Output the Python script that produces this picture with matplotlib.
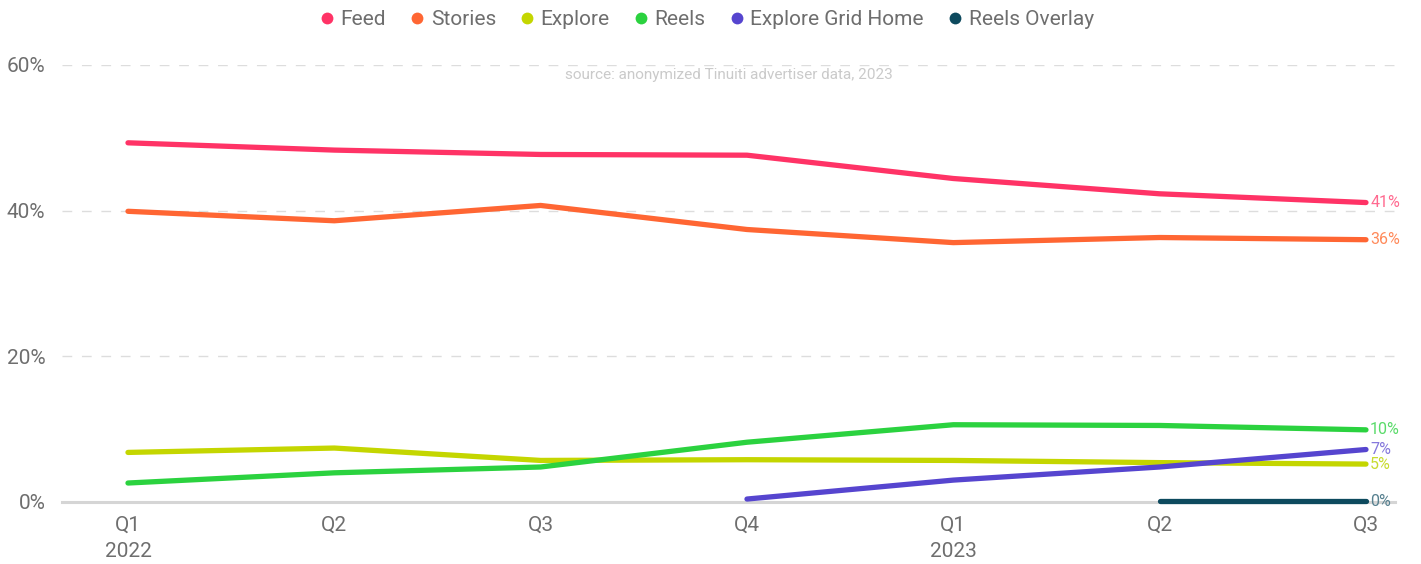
import matplotlib
matplotlib.use("Agg")
import matplotlib.pyplot as plt
from matplotlib.lines import Line2D
import numpy as np

plt.rcParams['font.family'] = ['Roboto', 'DejaVu Sans']

# Quarterly share of spend by placement
quarters = ["Q1\n2022", "Q2", "Q3", "Q4", "Q1\n2023", "Q2", "Q3"]
feed = [49.3, 48.3, 47.7, 47.6, 44.4, 42.3, 41.1]
stories = [39.9, 38.6, 40.7, 37.4, 35.6, 36.3, 36.0]
explore = [6.8, 7.4, 5.7, 5.8, 5.7, 5.4, 5.2]
reels = [2.6, 4.0, 4.8, 8.2, 10.6, 10.5, 9.9]
explore_grid_home = [None, None, None, 0.4, 3.0, 4.8, 7.2]
reels_overlay = [None, None, None, None, None, 0.1, 0.1]

series_names = ["Feed", "Stories", "Explore", "Reels", "Explore Grid Home", "Reels Overlay"]
series_values = [feed, stories, explore, reels, explore_grid_home, reels_overlay]
line_colors = ["#FF3366", "#FF6633", "#C4D600", "#2BD23F", "#5645CF", "#0D4A5E"]
label_colors = ["#FF6A90", "#FF8A5A", "#C8DB30", "#5ADB6A", "#8578DC", "#56808F"]

y_ticks = [0, 20, 40, 60]

fig = plt.figure(figsize=(14.21, 5.64), dpi=100)
ax = fig.add_axes([0.0436, 0.110, 0.938, 0.775])

x = np.arange(len(quarters))
for name, vals, col, lcol in zip(series_names, series_values, line_colors, label_colors):
    xs = [i for i, v in zip(x, vals) if v is not None]
    ys = [v for v in vals if v is not None]
    ax.plot(xs, ys, color=col, lw=3.8, solid_capstyle='round', solid_joinstyle='round',
            zorder=3, clip_on=False)
    ax.text(xs[-1] + 0.02, ys[-1], f"{round(ys[-1]):.0f}%", color=lcol, fontsize=11.5,
            va='center', ha='left', zorder=4)

ax.set_xlim(-0.32, 6.14)
ax.set_ylim(0, 60)

for t in y_ticks[1:]:
    ax.axhline(t, color="#DDDDDD", lw=1.0, ls=(0, (7, 7)), zorder=1)
ax.axhline(0, color="#D5D5D5", lw=2.2, zorder=2, clip_on=False)

for s in ax.spines.values():
    s.set_visible(False)

ax.set_yticks(y_ticks)
ax.set_yticklabels([f"{t}%" for t in y_ticks])
ax.set_xticks(x)
ax.set_xticklabels(quarters, linespacing=1.5)
ax.tick_params(axis='both', length=0, labelsize=15, labelcolor="#6E6E6E")
ax.tick_params(axis='y', pad=12)
ax.tick_params(axis='x', pad=10)

ax.text(0.5, 0.977, "source: anonymized Tinuiti advertiser data, 2023", transform=ax.transAxes,
        ha='center', va='center', fontsize=11, color="#CACACA")

handles = [Line2D([], [], marker='o', ls='none', ms=8.5, color=c, markeredgewidth=0)
           for c in line_colors]
leg = fig.legend(handles, series_names, loc='center', bbox_to_anchor=(0.4977, 0.965), ncol=6,
                 frameon=False, fontsize=15, handlelength=0.6, handletextpad=0.35,
                 columnspacing=1.2, borderaxespad=0)
for t in leg.get_texts():
    t.set_color("#6E6E6E")

fig.savefig("out.png", dpi=100)
